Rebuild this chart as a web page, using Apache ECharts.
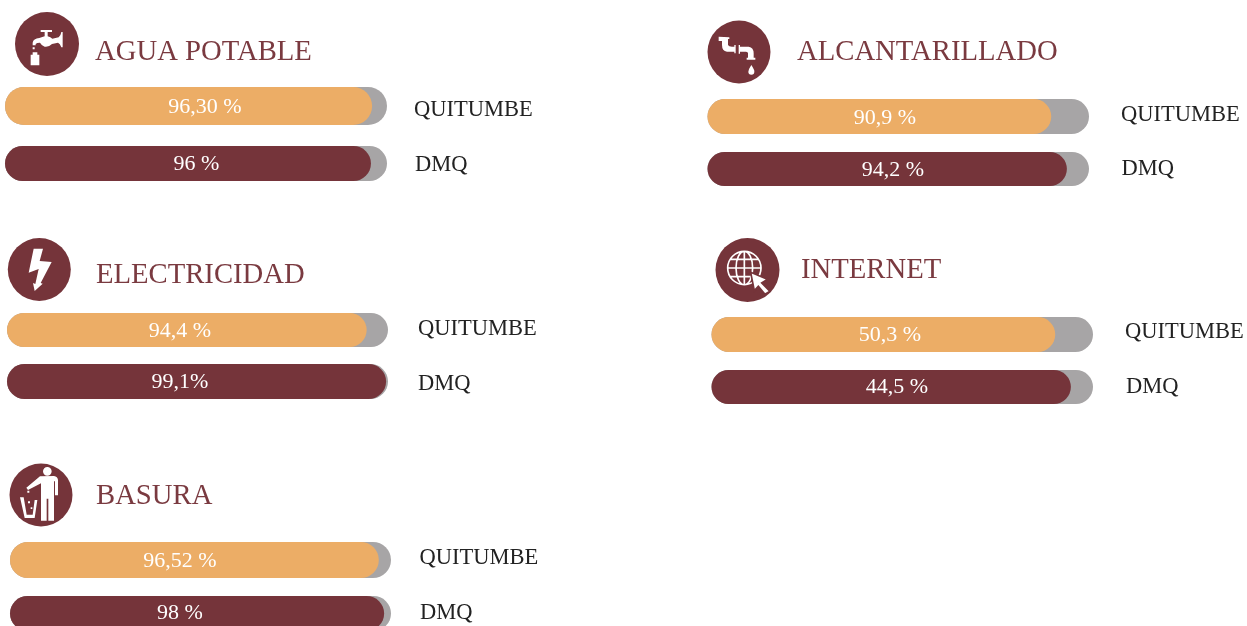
<!DOCTYPE html>
<html>
<head>
<meta charset="utf-8">
<style>
  html, body { margin: 0; padding: 0; background: #fff; height: 626px; overflow: hidden; }
  /* la ultima barra sale del borde inferior de la imagen */
  #chart { width: 1247px; height: 650px; }
</style>
<script src="https://cdn.jsdelivr.net/npm/echarts@6/dist/echarts.min.js"></script>
</head>
<body>
<div id="chart"></div>
<script>
// datos
const servicios = ['AGUA POTABLE', 'ELECTRICIDAD', 'BASURA', 'ALCANTARILLADO', 'INTERNET']
const zonas = ['QUITUMBE', 'DMQ']
// largo dibujado de cada barra (en la imagen no siempre coincide con la etiqueta)
const quitumbeBarra = [96.1, 94.4, 96.8, 90.1, 90.1]
const dmqBarra = [95.8, 99.5, 98.2, 94.2, 94.2]
const quitumbeEtiqueta = ['96,30 %', '94,4 %', '96,52 %', '90,9 %', '50,3 %']
const dmqEtiqueta = ['96 %', '99,1%', '98 %', '94,2 %', '44,5 %']
const total = 100

const GRIS = '#a7a5a6'
const NARANJA = '#ecad66'
const VINO = '#75343a'
const TITULO = '#7a3a40'
const FUENTE = '"Liberation Serif", serif'

// posicion en pantalla de cada bloque
// filas: y/h de la barra, t = centro del porcentaje, lado = texto de la derecha
const bloques = [
  { x: 5, w: 382, titulo: [95, 38], icono: [47, 44, 32], zoom: [10, 8],
    filas: [{ y: 87, h: 38, t: [205, 107], lado: [414, 110] }, { y: 146, h: 35, t: [196.5, 164.5], lado: [415, 165] }] },
  { x: 7, w: 381, titulo: [96, 261], icono: [39.3, 269.5, 31.5], zoom: [3, 233],
    filas: [{ y: 313, h: 34, t: [180, 331], lado: [418, 329] }, { y: 364, h: 35, t: [180, 382], lado: [418, 384] }] },
  { x: 10, w: 381, titulo: [96, 482], icono: [41, 495, 31.5], zoom: [4, 458],
    filas: [{ y: 542, h: 36, t: [180, 561], lado: [419.5, 558] }, { y: 596, h: 35, t: [180, 613.5], lado: [420, 613] }] },
  { x: 707.5, w: 381.5, titulo: [797, 38], icono: [739, 52, 31.5], zoom: [702, 15],
    filas: [{ y: 99, h: 35, t: [885, 118], lado: [1121, 115] }, { y: 152, h: 34, t: [893, 170], lado: [1121.5, 169] }] },
  { x: 711.5, w: 381.5, titulo: [801, 256], icono: [747.5, 270, 32], zoom: [710, 233],
    filas: [{ y: 317, h: 35, t: [890, 335.5], lado: [1125, 332] }, { y: 370, h: 34, t: [897, 387.5], lado: [1126, 387] }] }
]

// pictogramas, en coordenadas del recorte 3x de cada icono
const iconos = [
  [{ d: 'M92 66 L126 66 L126 72 L113 72 L113 85 Q122 88 127 92 L146 88 Q152 84 154 72 L158 72 L158 118 L154 118 Q150 106 144 104 L126 108 Q116 118 104 116 Q94 112 90 104 Q80 104 77 108 L77 112 L68 112 L68 104 Q70 92 88 90 L104 85 L104 72 L92 72 Z M68 118 L74 118 L74 124 L68 124 Z M68 133 L82 133 L82 140 L88 140 L88 172 L62 172 L62 140 L68 140 Z' }],
  [{ d: 'M92 47 L120 47 L110 84 L146 87 L113 150 L119 152 L95 174 L90 150 L97 153 L107 108 L77 119 Z' }],
  [{ d: 'M117 40 A13 13 0 1 1 143 40 A13 13 0 1 1 117 40 Z M108 55 L150 54 Q161 56 162 66 L162 112 L153 112 L153 70 L150 70 L150 188 L133 188 L133 122 L128 122 L128 188 L111 188 L111 76 L72 96 L67 89 Z M48 118 L59 118 L68 170 L86 170 L92 126 L100 126 L92 180 L62 180 Z M70 98 L76 98 L76 104 L70 104 Z M72 130 L78 130 L78 136 L72 136 Z M80 148 L85 148 L85 153 L80 153 Z' }],
  [{ d: 'M50 65 L82 67 L82 72 L78 72 L78 90 Q80 95 90 95 L97 95 L97 90 L101 90 L101 115 L97 115 L97 110 L75 110 Q60 108 60 90 L60 78 L50 78 Z M110 90 L114 90 L114 95 L140 95 Q155 97 155 115 L155 128 L160 128 L160 134 L134 134 L134 128 L138 128 L138 115 Q138 110 132 110 L114 110 L114 116 L110 116 Z M148 150 Q158 165 157 170 A9 9 0 1 1 139 170 Q140 162 148 150 Z' }],
  [{ d: 'M53 105 A50 50 0 1 1 153 105 A50 50 0 1 1 53 105 Z M78 105 A25 50 0 1 1 128 105 A25 50 0 1 1 78 105 Z M103 55 L103 155 M53 105 L153 105 M62 79 L144 79 M62 131 L144 131', linea: true },
   { d: 'M122 118 L172 139 L155 150 L180 175 L165 184 L145 160 L133 173 Z', borde: true }]
]

const chart = echarts.init(document.getElementById('chart'), null, { renderer: 'canvas' })

const grids = []
const xAxes = []
const yAxes = []
const series = []
const titulos = []

function agregarFila(fila, b, nombre, largo, etiqueta, color) {
  const i = grids.length
  grids.push({ left: b.x, top: fila.y, width: b.w, height: fila.h, containLabel: false })
  xAxes.push({ gridIndex: i, type: 'value', min: 0, max: total, show: false })
  yAxes.push({ gridIndex: i, type: 'category', data: [nombre], show: false })
  series.push({
    type: 'bar', xAxisIndex: i, yAxisIndex: i, barWidth: '100%', barGap: '-100%', silent: true,
    data: [total],
    itemStyle: { color: GRIS, borderRadius: fila.h / 2 },
    // nombre de la zona, a la derecha de la barra
    label: {
      show: true,
      position: [fila.lado[0] - b.x, fila.lado[1] - fila.y],
      align: 'left',
      verticalAlign: 'middle',
      color: '#222',
      fontFamily: FUENTE,
      fontSize: 22.5,
      formatter: '{b}'
    }
  })
  series.push({
    type: 'bar', xAxisIndex: i, yAxisIndex: i, barWidth: '100%', barGap: '-100%', silent: true,
    data: [largo],
    itemStyle: { color: color, borderRadius: fila.h / 2 },
    label: {
      show: true,
      position: [fila.t[0] - b.x, fila.t[1] - fila.y],
      align: 'center',
      verticalAlign: 'middle',
      color: '#fff',
      fontFamily: FUENTE,
      fontSize: 22,
      formatter: () => etiqueta
    }
  })
}

bloques.forEach((b, k) => {
  agregarFila(b.filas[0], b, zonas[0], quitumbeBarra[k], quitumbeEtiqueta[k], NARANJA)
  agregarFila(b.filas[1], b, zonas[1], dmqBarra[k], dmqEtiqueta[k], VINO)
  titulos.push({
    text: servicios[k],
    left: b.titulo[0],
    top: b.titulo[1],
    padding: 0,
    textStyle: { color: TITULO, fontFamily: FUENTE, fontSize: 28.7, fontWeight: 'normal' }
  })
})

// iconos circulares
series.push({
  type: 'custom',
  coordinateSystem: 'none',
  silent: true,
  data: bloques.map((b, k) => k),
  renderItem: (params) => {
    const k = params.dataIndex
    const b = bloques[k]
    const children = [{
      type: 'circle',
      shape: { cx: b.icono[0], cy: b.icono[1], r: b.icono[2] },
      style: { fill: VINO }
    }]
    iconos[k].forEach((p) => {
      children.push({
        type: 'path',
        x: b.zoom[0], y: b.zoom[1], scaleX: 1 / 3, scaleY: 1 / 3,
        shape: { pathData: p.d },
        style: p.linea
          ? { fill: 'none', stroke: '#fff', lineWidth: 5 }
          : p.borde
            ? { fill: '#fff', stroke: VINO, lineWidth: 5 }
            : { fill: '#fff' }
      })
    })
    return { type: 'group', children }
  }
})

chart.setOption({
  animation: false,
  title: titulos,
  grid: grids,
  xAxis: xAxes,
  yAxis: yAxes,
  series: series
})
</script>
</body>
</html>
